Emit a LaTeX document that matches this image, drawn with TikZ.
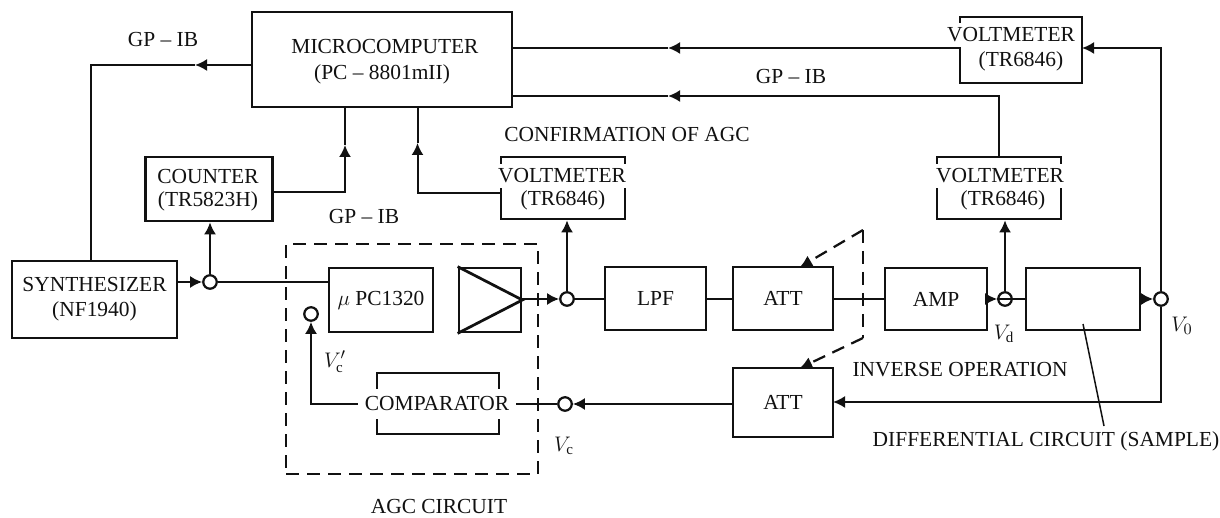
\documentclass[tikz,border=0pt]{standalone}
\usepackage{fontspec}
\setmainfont{Liberation Serif}
\usetikzlibrary{arrows.meta}
\definecolor{ink}{HTML}{111111}
\tikzset{
  blockbox/.style={draw=ink, line width=0.55mm, inner sep=0pt, align=center, text=ink},
  blocksize/.style 2 args={minimum width=#1*0.2mm, minimum height=#2*0.2mm},
  boxlabel/.style={fill=white, inner xsep=0.6pt, inner ysep=1mm, text=ink},
  caption/.style={inner sep=0pt, text=ink},
  junction/.style={circle, draw=ink, fill=white, line width=0.45mm, minimum size=2.7mm, inner sep=0pt},
  wire/.style={draw=ink, line width=0.4mm},
  tip/.style={-{Latex[length=2.4mm, width=2.4mm]}},
  gang/.style={draw=ink, line width=0.45mm, dash pattern=on 2.6mm off 1.6mm}
}

\begin{document}
\begin{tikzpicture}[x=0.2mm, y=-0.2mm, font=\fontsize{12.2}{14.2}\selectfont]
  \useasboundingbox (0,0) rectangle (1220,518);

  % Blocks
  \node[blockbox, blocksize={260}{95}] (micro) at (382,59.5) {};
  \node[caption] (microA) at (385,47) {MICROCOMPUTER};
  \node[caption] (microB) at (382,74) {(PC – 8801mII)};
  \node[blockbox, blocksize={127}{64}] (counter) at (209,189) {};
  \node[caption] (counterA) at (208,177) {COUNTER};
  \node[caption] (counterB) at (208,201) {(TR5823H)};
  \node[blockbox, blocksize={165}{77}] (synth) at (94.5,299.5) {SYNTHESIZER\\(NF1940)};
  \node[blockbox, blocksize={104}{64}] (upc) at (381,300) {$\mu$ PC1320};
  \node[blockbox, blocksize={62}{64}] (ampl) at (490,300) {};
  \node[blockbox, blocksize={101}{63}] (lpf) at (655.5,298.5) {LPF};
  \node[blockbox, blocksize={100}{63}] (attA) at (783,298.5) {ATT};
  \node[blockbox, blocksize={102}{62}] (amp) at (936,299) {AMP};
  \node[blockbox, blocksize={114}{62}] (diff) at (1083,299) {};
  \node[blockbox, blocksize={100}{69}] (attB) at (783,402.5) {ATT};
  \node[blockbox, blocksize={122}{61}] (comp) at (438,403.5) {};
  \node[boxlabel, inner ysep=1.6mm] (compText) at (437,404) {COMPARATOR};
  \draw[wire, line width=0.55mm] (ampl.north west) -- (ampl.east) -- (ampl.south west);

  % Voltmeters, first text line breaks the frame
  \foreach \name/\x/\y/\w/\h/\xa/\ya/\xb/\yb in {
    voltTop/1021/50/122/66/1011/35/1021/61,
    voltMid/999/188/124/62/1000/176/1003/200,
    voltConf/563/188/124/62/562/176/563/200
  } {
    \node[blockbox, blocksize={\w}{\h}] (\name) at (\x,\y) {};
    \node[boxlabel] (\name A) at (\xa,\ya) {VOLTMETER};
    \node[caption] (\name B) at (\xb,\yb) {(TR6846)};
  }

  % Junction points
  \foreach \name/\x/\y in {
    jSynth/210/282, jOut/567/299, jVd/1005/299,
    jVo/1161/299, jVc/565/404, jFb/311/314
  } {
    \node[junction] (\name) at (\x,\y) {};
  }

  % AGC frame and gang lines
  \node[gang, draw, blocksize={252}{230}] (agc) at (412,359) {};
  \coordinate (gangTop) at (863,230);
  \coordinate (gangBot) at (863,338);
  \coordinate (gangA) at (800,267);
  \coordinate (gangB) at (800,368);
  \draw[gang, tip] (gangTop) -- (gangA);
  \draw[gang] (gangTop) -- (gangBot);
  \draw[gang, tip] (gangBot) -- (gangB);

  % Mid-line arrow points
  \coordinate (arrVolt) at (668,48);
  \coordinate (arrBus) at (668,96);
  \coordinate (arrSynth) at (195,65);
  \coordinate (arrCount) at (345,145);
  \coordinate (arrConf) at (417.5,143);

  % Bus wires
  \draw[wire, tip] (voltTop.west |- arrVolt) -- (arrVolt);
  \draw[wire] (arrVolt) -- (micro.east |- arrVolt);
  \draw[wire, tip] (voltMid.north) |- (arrBus);
  \draw[wire] (arrBus) -- (micro.east |- arrBus);
  \draw[wire, tip] (micro.west |- arrSynth) -- (arrSynth);
  \draw[wire] (arrSynth) -| (synth.north -| 91,0);
  \draw[wire, tip] (counter.east |- 0,192) -| (arrCount);
  \draw[wire] (arrCount) -- (micro.south -| arrCount);
  \draw[wire, tip] (voltConf.west |- 0,193) -| (arrConf);
  \draw[wire] (arrConf) -- (micro.south -| arrConf);

  % Signal path
  \draw[wire, tip] (synth.east |- jSynth) -- (jSynth.west);
  \draw[wire] (jSynth.east) -- (upc.west |- jSynth);
  \draw[wire, tip] (jSynth.north) -- (counter.south -| jSynth);
  \draw[wire, tip] (ampl.east |- jOut) -- (jOut.west);
  \draw[wire, tip] (jOut.north) -- (voltConf.south -| jOut);
  \draw[wire] (jOut.east) -- (lpf.west |- jOut);
  \draw[wire] (lpf.east |- jOut) -- (attA.west |- jOut);
  \draw[wire] (attA.east |- jOut) -- (amp.west |- jOut);
  \draw[wire, tip] (amp.east |- jVd) -- (jVd.west);
  \draw[wire] (jVd.west) -- (diff.west |- jVd);
  \draw[wire, tip] (jVd.north) -- (voltMid.south -| jVd);
  \draw[wire, tip] (diff.east |- jVo) -- (jVo.west);

  % Feedback
  \coordinate (topIn) at (1082,48);
  \coordinate (attIn) at (833,402);
  \draw[wire, tip] (jVo.north) |- (topIn);
  \draw[wire, tip] (jVo.south) |- (attIn);
  \draw[wire, tip] (attB.west |- jVc) -- (jVc.east);
  \draw[wire, shorten >=1mm] (jVc.west) -- (compText.east |- jVc);
  \draw[wire, tip, shorten <=1.2mm] (compText.west |- jVc) -| (jFb.south);

  % Leader to the sample block
  \coordinate (leadA) at (1083,324);
  \coordinate (leadB) at (1104,426);
  \draw[wire, line width=0.3mm] (leadA) -- (leadB);

  % Captions
  \node[caption] (busA) at (163,40) {GP – IB};
  \node[caption] (busB) at (364,217) {GP – IB};
  \node[caption] (busC) at (791,77) {GP – IB};
  \node[caption] (confirm) at (627,135) {CONFIRMATION OF AGC};
  \node[caption] (inverse) at (960,370) {INVERSE OPERATION};
  \node[caption] (sample) at (1046,441) {DIFFERENTIAL CIRCUIT (SAMPLE)};
  \node[caption] (agcName) at (439,507) {AGC CIRCUIT};
  \node[caption] (vcp) at (335,362) {$V_{\mathrm{c}}'$};
  \node[caption] (vc) at (564,446) {$V_{\mathrm{c}}$};
  \node[caption] (vd) at (1004,334) {$V_{\mathrm{d}}$};
  \node[caption] (vo) at (1182,326) {$V_{0}$};
\end{tikzpicture}
\end{document}
